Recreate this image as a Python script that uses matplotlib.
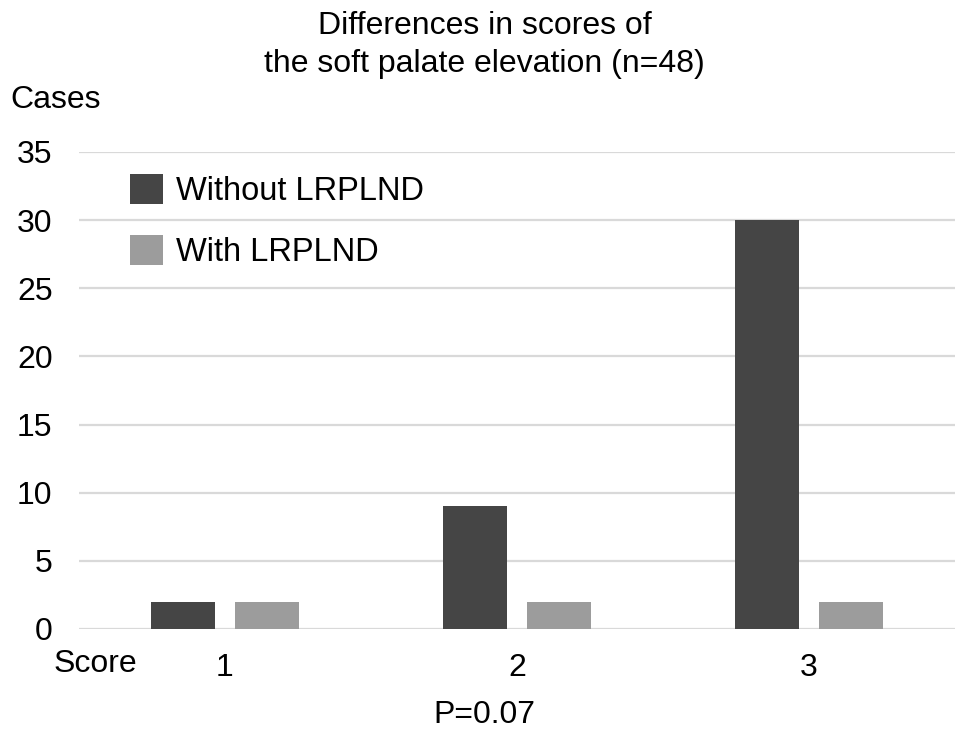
import matplotlib.pyplot as plt
import numpy as np

plt.rcParams['font.family'] = ['Liberation Sans', 'DejaVu Sans']

scores = ['1', '2', '3']
without_lrplnd = [2, 9, 30]
with_lrplnd = [2, 2, 2]
y_ticks = [0, 5, 10, 15, 20, 25, 30, 35]

fs = 23
fig = plt.figure(figsize=(9.69, 7.40), dpi=100)
ax = fig.add_axes([79 / 969, 0.15, (955 - 79) / 969, 0.6446])

x = np.arange(1, len(scores) + 1)
w = 0.22
ax.bar(x - 0.145, without_lrplnd, w, color='#454545', label='Without LRPLND', zorder=3)
ax.bar(x + 0.145, with_lrplnd, w, color='#9c9c9c', label='With LRPLND', zorder=3)

ax.set_xlim(0.5, 3.5)
ax.set_ylim(0, 35)
ax.set_yticks(y_ticks)
ax.set_xticks(x)
ax.set_xticklabels(scores)
ax.tick_params(axis='both', length=0, labelsize=fs)
ax.tick_params(axis='y', pad=19)
ax.tick_params(axis='x', pad=17)
ax.grid(axis='y', color='#d9d9d9', linewidth=1.6, zorder=0)
for s in ax.spines.values():
    s.set_visible(False)

fig.legend(loc='upper left', bbox_to_anchor=(130 / 969, 1 - 174 / 740),
           frameon=False, fontsize=23.5, handlelength=1.0, handleheight=1.05,
           handletextpad=0.4, labelspacing=0.85, borderpad=0, borderaxespad=0)

fig.text(0.5, 1 - 26 / 740, 'Differences in scores of', ha='center', va='center', fontsize=fs)
fig.text(0.5, 1 - 64 / 740, 'the soft palate elevation (n=48)', ha='center', va='center', fontsize=fs)
fig.text(10 / 969, 1 - 100 / 740, 'Cases', ha='left', va='center', fontsize=fs)
fig.text(54 / 969, 1 - 664 / 740, 'Score', ha='left', va='center', fontsize=fs)
fig.text(0.5, 1 - 715 / 740, 'P=0.07', ha='center', va='center', fontsize=fs)

plt.savefig('out.png', dpi=100)
